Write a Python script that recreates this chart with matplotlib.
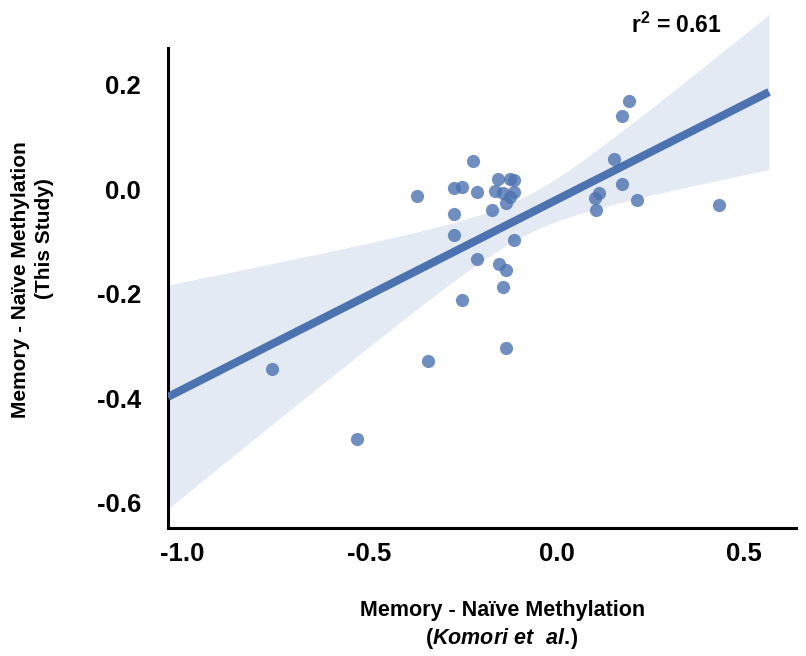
import numpy as np
import matplotlib
matplotlib.use("Agg")
import matplotlib.pyplot as plt

plt.rcParams['font.family'] = ['Liberation Sans', 'DejaVu Sans']
plt.rcParams['font.weight'] = 'bold'
plt.rcParams['mathtext.fontset'] = 'custom'
plt.rcParams['mathtext.rm'] = 'Liberation Sans:bold'
plt.rcParams['mathtext.bf'] = 'Liberation Sans:bold'
plt.rcParams['mathtext.it'] = 'Liberation Sans:italic:bold'

# memory - naive methylation, Komori et al. (x) vs this study (y)
komori = [-0.761, -0.533, -0.343, -0.374, -0.275, -0.254, -0.274, -0.274,
          -0.225, -0.214, -0.254, -0.214, -0.174, -0.164, -0.157, -0.125,
          -0.114, -0.143, -0.114, -0.125, -0.136, -0.115, -0.155, -0.136,
          -0.145, -0.136, 0.193, 0.173, 0.153, 0.173, 0.113, 0.101, 0.104,
          0.213, 0.432]
this_study = [-0.343, -0.477, -0.329, -0.012, 0.002, 0.004, -0.046, -0.087,
              0.055, -0.005, -0.212, -0.133, -0.039, -0.003, 0.021, 0.021,
              0.018, -0.006, -0.004, -0.014, -0.025, -0.097, -0.142, -0.155,
              -0.187, -0.303, 0.169, 0.141, 0.058, 0.011, -0.007, -0.017,
              -0.039, -0.021, -0.029]
r2_label = r'$\mathrm{r}^{2}$ = 0.61'
xticks = [-1.0, -0.5, 0.0, 0.5]
yticks = [0.2, 0.0, -0.2, -0.4, -0.6]

color = '#4C72B0'
xlim = (-1.038, 0.638)
ylim = (-0.648, 0.271)

x = np.array(komori)
y = np.array(this_study)

fig = plt.figure(figsize=(8.06, 6.56), dpi=100)
ax = fig.add_axes([0.2084, 0.195, 0.7792, 0.732])

# linear fit, 95% band from a robust (HC3) standard error
n = len(x)
X = np.column_stack([np.ones(n), x])
beta = np.linalg.lstsq(X, y, rcond=None)[0]
resid = y - X @ beta
xtx_inv = np.linalg.inv(X.T @ X)
lev = np.einsum('ij,jk,ik->i', X, xtx_inv, X)
meat = X.T @ (X * (resid / (1 - lev))[:, None] ** 2)
cov = xtx_inv @ meat @ xtx_inv

grid = np.linspace(xlim[0], 0.566, 200)
G = np.column_stack([np.ones_like(grid), grid])
fit = G @ beta
se = np.sqrt(np.einsum('ij,jk,ik->i', G, cov, G))
z = 1.96

ax.fill_between(grid, fit - z * se, fit + z * se, color=color, alpha=0.15,
                lw=0, clip_on=False)
ax.scatter(x, y, s=90, color=color, alpha=0.8, lw=0, zorder=3)
ax.plot(grid, fit, color=color, lw=5.8, zorder=4, solid_capstyle='butt')

ax.set_xlim(*xlim)
ax.set_ylim(*ylim)
ax.set_xticks(xticks)
ax.set_xticklabels([f'{v:.1f}' for v in xticks])
ax.set_yticks(yticks)
ax.set_yticklabels([f'{v:.1f}' for v in yticks])
ax.tick_params(length=0, labelsize=18.5)
ax.tick_params(axis='x', pad=10)
ax.tick_params(axis='y', pad=19.5)
for side in ['top', 'right']:
    ax.spines[side].set_visible(False)
for side in ['left', 'bottom']:
    ax.spines[side].set_linewidth(2.2)
    ax.spines[side].set_color('black')

ax.set_xlabel('Memory - Naïve Methylation\n'
              + r'$\mathrm{(}\mathit{Komori\ et\ \ al.}\!\mathrm{)}$',
              fontsize=15.5, fontweight='bold', linespacing=1.25)
ax.xaxis.set_label_coords(0.532, -0.15)
ax.xaxis.label.set_va('top')

fig.text(0.025, 0.573, 'Memory - Naïve Methylation', rotation=90,
         ha='center', va='center', fontsize=15, fontweight='bold')
fig.text(0.055, 0.636, '(This Study)', rotation=90,
         ha='center', va='center', fontsize=15, fontweight='bold')

fig.text(0.839, 0.95, r2_label, ha='center', va='baseline', fontsize=16.5)

fig.savefig('out.png', dpi=100)
